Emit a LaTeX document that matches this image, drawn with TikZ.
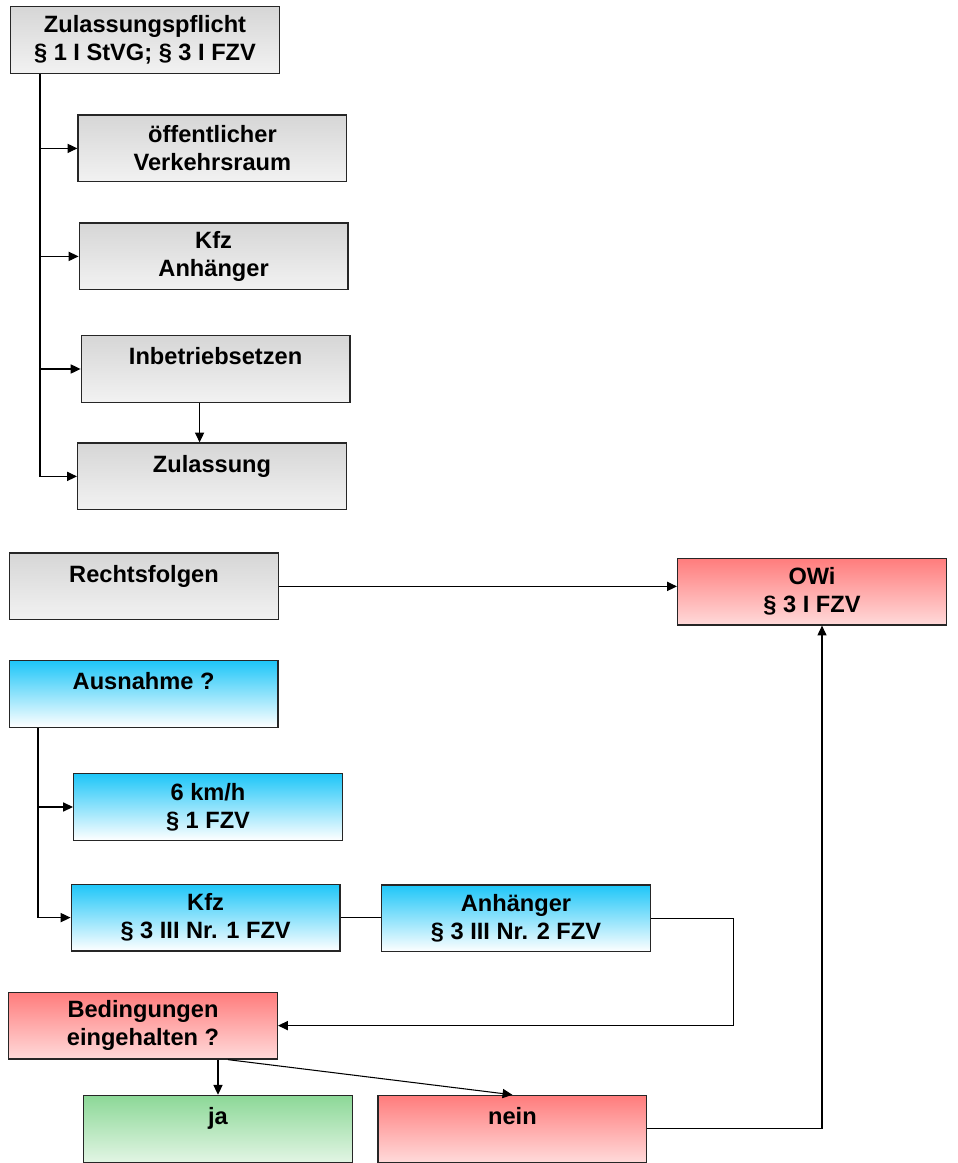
\documentclass[tikz,border=0pt]{standalone}
\usepackage{fontspec}
\setmainfont{Liberation Sans}
\usetikzlibrary{arrows.meta}
\definecolor{BoxLine} {HTML}{262626}
\definecolor{GrayTop} {HTML}{D6D6D6}
\definecolor{GrayBot} {HTML}{F2F2F2}
\definecolor{CyanTop} {HTML}{1EC6F8}
\definecolor{RedTop}  {HTML}{FF7C7C}
\definecolor{RedBot}  {HTML}{FFDADA}
\definecolor{GreenTop}{HTML}{8CD897}
\definecolor{GreenBot}{HTML}{E2F5E4}
\tikzset{
  fbox/.style={rectangle,draw=BoxLine,line width=0.9pt,minimum width=6.72cm,
               minimum height=1.67cm,inner sep=2pt,align=center,
               font=\fontsize{16.8}{20}\selectfont\bfseries},
  gbox/.style={fbox,top color=GrayTop,bottom color=GrayBot},
  cbox/.style={fbox,top color=CyanTop,bottom color=white},
  rbox/.style={fbox,top color=RedTop,bottom color=RedBot},
  ebox/.style={fbox,top color=GreenTop,bottom color=GreenBot},
  upper/.style={text height=13pt,text depth=19pt},
  arr/.style={-{Triangle[length=7pt,width=6.5pt]},line width=0.75pt},
  ln/.style={line width=0.75pt},
}

\begin{document}
\begin{tikzpicture}

  \useasboundingbox (0,0) rectangle (23.925,-29.075);

  \node[gbox] (Z)    at (3.625,-1.0)  {Zulassungspflicht\\§ 1 I StVG; § 3 I FZV};
  \node[gbox] (oeV)  at (5.31,-3.71)  {öffentlicher\\Verkehrsraum};
  \node[gbox] (KA)   at (5.34,-6.41)  {Kfz\\Anhänger};
  \node[gbox,upper] (Inb) at (5.39,-9.225) {Inbetriebsetzen};
  \node[gbox,upper] (Zul) at (5.30,-11.91) {Zulassung};

  \node[gbox,upper] (Rechts) at (3.60,-14.66) {Rechtsfolgen};
  \node[rbox] (OWi)  at (20.30,-14.79) {OWi\\§ 3 I FZV};

  \node[cbox,upper] (Ausn) at (3.59,-17.35) {Ausnahme ?};
  \node[cbox] (km6)  at (5.20,-20.175) {6 km/h\\§ 1 FZV};
  \node[cbox] (Kfz3) at (5.14,-22.94)  {Kfz\\§ 3 III Nr. 1 FZV};
  \node[cbox] (Anh3) at (12.90,-22.96) {Anhänger\\§ 3 III Nr. 2 FZV};

  \node[rbox] (Bed)  at (3.575,-25.64) {Bedingungen\\eingehalten ?};
  \node[ebox,upper] (ja)   at (5.45,-28.22)  {ja};
  \node[rbox,upper] (nein) at (12.81,-28.22) {nein};

  \coordinate (zx) at (1.0,0);
  \coordinate (ax) at (0.95,0);
  \coordinate (bx) at (18.33,0);

  \draw[arr] (Z.south -| zx) |- (Zul.west);
  \foreach \n in {oeV,KA,Inb}
    \draw[arr] (zx |- \n.west) -- (\n.west);
  \draw[arr] ([xshift=-0.4cm]Inb.south) -- ([xshift=-0.4cm]Inb.south |- Zul.north);

  \draw[arr] (Rechts.east) -- (Rechts.east -| OWi.west);

  \draw[arr] (Ausn.south -| ax) |- (Kfz3.west);
  \draw[arr] (ax |- km6.west) -- (km6.west);
  \draw[ln] (Kfz3.east) -- (Kfz3.east -| Anh3.west);
  \draw[arr] (Anh3.east) -| (bx |- Bed.east) -- (Bed.east);

  \draw[arr] (ja.north |- Bed.south) -- (ja.north);
  \draw[arr] ([xshift=0.25cm]ja.north |- Bed.south) -- (nein.north);
  \draw[arr] (nein.east) -| ([xshift=0.25cm]OWi.south);

\end{tikzpicture}
\end{document}
